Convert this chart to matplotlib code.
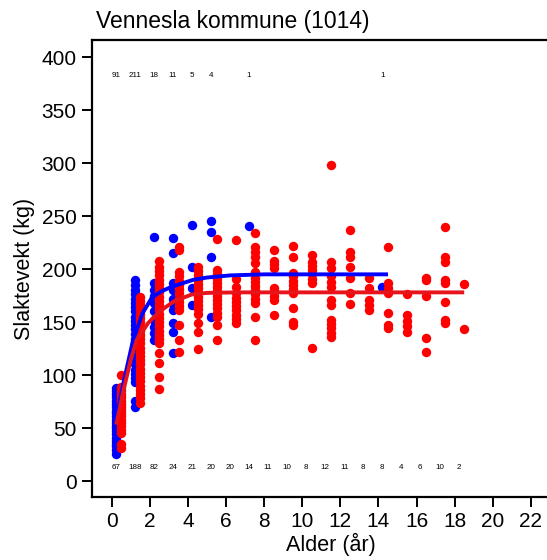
import matplotlib.pyplot as plt

plt.rcParams['font.family'] = ['Liberation Sans', 'DejaVu Sans']

# weights per age class (kg)
blue_ages = [0, 1, 2, 3, 4, 5, 7, 14]
blue_weights = [
    [26, 29, 33, 35, 38, 41, 44, 47, 50, 52, 55, 58, 61, 64, 66, 70, 73, 76, 79, 82, 85, 88],
    [70, 76, 93, 97, 101, 105, 110, 114, 118, 122, 126, 130, 134, 139, 143, 147, 151, 155, 160, 164, 168, 172, 176, 180, 185, 190],
    [133, 140, 145, 152, 160, 168, 175, 180, 187, 230],
    [121, 141, 149, 161, 167, 172, 180, 187, 215, 229],
    [166, 182, 202, 242],
    [155, 211, 235, 245],
    [241],
    [183],
]

red_ages = list(range(19))
red_weights = [
    [31, 35, 45, 48, 52, 55, 58, 61, 64, 67, 70, 73, 76, 79, 82, 86, 89, 100],
    [74, 78, 82, 86, 90, 94, 98, 102, 106, 110, 114, 118, 122, 126, 130, 134, 138, 142, 146, 150, 154, 158, 162, 166, 170, 174],
    [87, 98, 111, 121, 130, 134, 138, 142, 146, 150, 154, 158, 162, 166, 170, 174, 178, 182, 186, 190, 194, 198, 202, 208],
    [122, 133, 147, 161, 165, 169, 173, 177, 181, 185, 189, 193, 197, 218, 221],
    [125, 141, 149, 158, 162, 166, 170, 174, 178, 182, 186, 190, 194, 198, 202],
    [133, 147, 155, 159, 163, 167, 171, 175, 179, 183, 187, 191, 195, 199, 228],
    [149, 153, 157, 161, 165, 169, 173, 177, 183, 191, 227],
    [133, 155, 168, 172, 176, 180, 184, 188, 192, 197, 206, 211, 216, 221, 234],
    [157, 171, 175, 179, 182, 201, 205, 208, 218],
    [147, 150, 163, 177, 181, 185, 189, 193, 196, 211, 222],
    [126, 187, 191, 195, 199, 203, 207, 213],
    [136, 140, 144, 148, 152, 166, 171, 183, 188, 193, 201, 207, 298],
    [167, 177, 192, 202, 211, 216, 237],
    [161, 166, 171, 182, 192],
    [144, 147, 159, 177, 182, 187, 221],
    [141, 146, 151, 157, 176],
    [122, 135, 175, 190, 192],
    [149, 152, 169, 187, 190, 207, 211, 240],
    [143, 186],
]

# fitted growth curves
blue_fit_x = [0.2, 0.6, 1.1, 1.6, 2.1, 2.6, 3.1, 3.6, 4.3, 5.0, 6.2, 8.0, 10.0, 14.4]
blue_fit_y = [55, 92, 132, 158, 173, 179, 183, 186, 190, 192, 194, 195, 195, 195]
red_fit_x = [0.25, 0.6, 1.0, 1.3, 1.9, 2.5, 3.3, 4.2, 5.0, 6.5, 8.0, 12.0, 18.4]
red_fit_y = [55, 85, 115, 133, 149, 160, 170, 176, 177.5, 178, 178, 178, 178]

top_ages = [0, 1, 2, 3, 4, 5, 7, 14]
top_counts = [91, 211, 18, 11, 5, 4, 1, 1]
bottom_ages = list(range(19))
bottom_counts = [67, 188, 82, 24, 21, 20, 20, 14, 11, 10, 8, 12, 11, 8, 8, 4, 6, 10, 2]

fig = plt.figure(figsize = (5.47, 5.6), dpi = 100)
ax = fig.add_axes([0.168, 0.1125, 0.872, 0.816])

for age, ws in zip(blue_ages, blue_weights):
    ax.scatter([age + 0.2] * len(ws), ws, s = 46, color = '#0000ff', linewidths = 0, zorder = 2)

for age, ws in zip(red_ages, red_weights):
    ax.scatter([age + 0.5] * len(ws), ws, s = 46, color = '#ff0000', linewidths = 0, zorder = 3)

ax.plot(blue_fit_x, blue_fit_y, color = '#0000ff', lw = 2.8, zorder = 4)
ax.plot(red_fit_x, red_fit_y, color = '#e8141b', lw = 2.8, zorder = 5)

for age, n in zip(top_ages, top_counts):
    ax.text(age + 0.2, 383, str(n), fontsize = 5.8, ha = 'center', va = 'center')
for age, n in zip(bottom_ages, bottom_counts):
    ax.text(age + 0.2, 13, str(n), fontsize = 5.8, ha = 'center', va = 'center')

ax.set_xlim(-1.05, 24)
ax.set_ylim(-15, 416)
ax.set_xticks(range(0, 23, 2))
ax.set_yticks(range(0, 401, 50))
ax.tick_params(direction = 'out', length = 7, width = 1.4, labelsize = 15, pad = 4)

for side in ['left', 'bottom', 'top', 'right']:
    ax.spines[side].set_linewidth(1.6)

ax.set_xlabel('Alder (år)', fontsize = 15.5, labelpad = 1)
ax.set_ylabel('Slaktevekt (kg)', fontsize = 15.5, labelpad = 5)
ax.text(0.009, 1.016, 'Vennesla kommune (1014)', transform = ax.transAxes,
        fontsize = 16.5, ha = 'left', va = 'bottom')

fig.savefig('out.png', dpi = 100)
